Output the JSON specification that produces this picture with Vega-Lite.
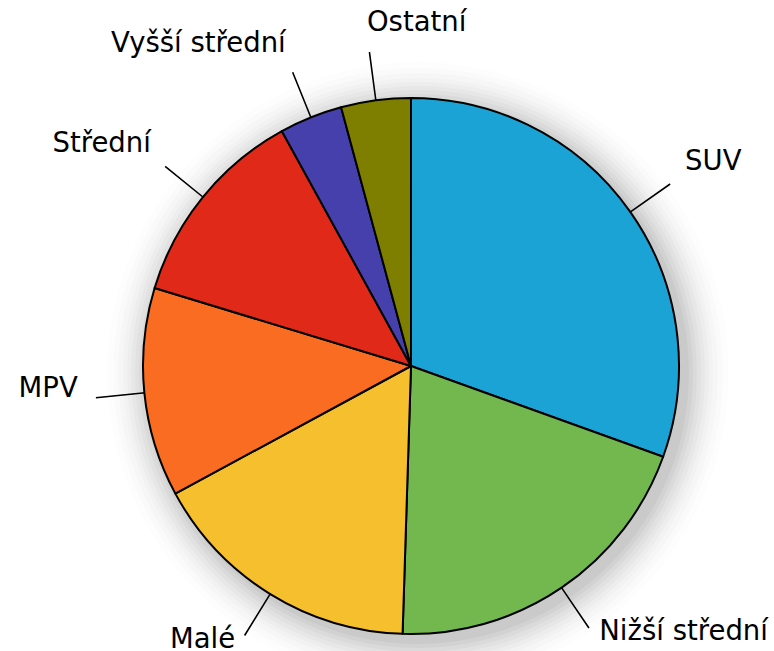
{
  "$schema": "https://vega.github.io/schema/vega-lite/v6.json",
  "width": 726,
  "height": 570,
  "autosize": "none",
  "padding": {"left": 48, "top": 81, "right": 0, "bottom": 0},
  "background": "white",
  "view": {"stroke": null},
  "datasets": {
    "cars": [
      {"category": "SUV", "value": 30.5, "i": 1},
      {"category": "Nižší střední", "value": 20.0, "i": 2},
      {"category": "Malé", "value": 16.6, "i": 3},
      {"category": "MPV", "value": 12.6, "i": 4},
      {"category": "Střední", "value": 12.3, "i": 5},
      {"category": "Vyšší střední", "value": 3.8, "i": 6},
      {"category": "Ostatní", "value": 4.2, "i": 7}
    ],
    "one": [{"s": 1}]
  },
  "layer": [
    {"data": {"name": "one"}, "mark": {"type": "arc", "theta": 0, "theta2": 6.2832, "outerRadius": 271, "fill": "#000", "opacity": 0.03, "xOffset": 7, "yOffset": 7}, "encoding": {}},
    {"data": {"name": "one"}, "mark": {"type": "arc", "theta": 0, "theta2": 6.2832, "outerRadius": 275, "fill": "#000", "opacity": 0.03, "xOffset": 7, "yOffset": 7}, "encoding": {}},
    {"data": {"name": "one"}, "mark": {"type": "arc", "theta": 0, "theta2": 6.2832, "outerRadius": 279, "fill": "#000", "opacity": 0.028, "xOffset": 7, "yOffset": 7}, "encoding": {}},
    {"data": {"name": "one"}, "mark": {"type": "arc", "theta": 0, "theta2": 6.2832, "outerRadius": 283, "fill": "#000", "opacity": 0.025, "xOffset": 7, "yOffset": 7}, "encoding": {}},
    {"data": {"name": "one"}, "mark": {"type": "arc", "theta": 0, "theta2": 6.2832, "outerRadius": 287, "fill": "#000", "opacity": 0.022, "xOffset": 7, "yOffset": 7}, "encoding": {}},
    {"data": {"name": "one"}, "mark": {"type": "arc", "theta": 0, "theta2": 6.2832, "outerRadius": 291, "fill": "#000", "opacity": 0.02, "xOffset": 7, "yOffset": 7}, "encoding": {}},
    {"data": {"name": "one"}, "mark": {"type": "arc", "theta": 0, "theta2": 6.2832, "outerRadius": 295, "fill": "#000", "opacity": 0.017, "xOffset": 7, "yOffset": 7}, "encoding": {}},
    {"data": {"name": "one"}, "mark": {"type": "arc", "theta": 0, "theta2": 6.2832, "outerRadius": 300, "fill": "#000", "opacity": 0.014, "xOffset": 7, "yOffset": 7}, "encoding": {}},
    {"data": {"name": "one"}, "mark": {"type": "arc", "theta": 0, "theta2": 6.2832, "outerRadius": 305, "fill": "#000", "opacity": 0.011, "xOffset": 7, "yOffset": 7}, "encoding": {}},
    {"data": {"name": "one"}, "mark": {"type": "arc", "theta": 0, "theta2": 6.2832, "outerRadius": 311, "fill": "#000", "opacity": 0.008, "xOffset": 7, "yOffset": 7}, "encoding": {}},
    {
      "data": {"name": "cars"},
      "mark": {"type": "arc", "outerRadius": 268, "stroke": "#000", "strokeWidth": 2, "strokeJoin": "round"},
      "encoding": {
        "theta": {"field": "value", "type": "quantitative", "stack": true, "scale": {"domain": [0, 100], "range": [0, 6.2832]}},
        "order": {"field": "i", "type": "quantitative"},
        "color": {
          "field": "category", "type": "nominal", "legend": null,
          "scale": {
            "domain": ["SUV", "Nižší střední", "Malé", "MPV", "Střední", "Vyšší střední", "Ostatní"],
            "range": ["#1ba3d5", "#72b84f", "#f5bf2d", "#f96c21", "#e1291a", "#4640ad", "#7e7e00"]
          }
        }
      }
    },
    {
      "data": {"name": "cars"},
      "transform": [
        {"window": [{"op": "sum", "field": "value", "as": "cum"}], "sort": [{"field": "i"}], "frame": [null, 0]},
        {"calculate": "datum.cum - datum.value / 2", "as": "mid"},
        {"calculate": "datum.mid + 0.01", "as": "mid2"}
      ],
      "mark": {"type": "arc", "innerRadius": 268, "outerRadius": 316, "stroke": "#000", "strokeWidth": 1.4, "fill": "#000"},
      "encoding": {
        "theta": {"field": "mid", "type": "quantitative", "scale": {"domain": [0, 100], "range": [0, 6.2832]}},
        "theta2": {"field": "mid2"}
      }
    },
    {
      "data": {"name": "cars"},
      "transform": [
        {"window": [{"op": "sum", "field": "value", "as": "cum"}], "sort": [{"field": "i"}], "frame": [null, 0]},
        {"calculate": "datum.cum - datum.value / 2", "as": "mid"},
        {"filter": {"field": "category", "oneOf": ["SUV", "Nižší střední", "Ostatní"]}}
      ],
      "mark": {"type": "text", "radius": 335, "align": "left", "baseline": "middle", "dy": -11, "font": "DejaVu Sans", "fontSize": 27.5, "color": "#000"},
      "encoding": {
        "theta": {"field": "mid", "type": "quantitative", "scale": {"domain": [0, 100], "range": [0, 6.2832]}},
        "text": {"field": "category"}
      }
    },
    {
      "data": {"name": "cars"},
      "transform": [
        {"window": [{"op": "sum", "field": "value", "as": "cum"}], "sort": [{"field": "i"}], "frame": [null, 0]},
        {"calculate": "datum.cum - datum.value / 2", "as": "mid"},
        {"filter": {"field": "category", "oneOf": ["Malé", "MPV", "Střední", "Vyšší střední"]}}
      ],
      "mark": {"type": "text", "radius": 335, "align": "right", "baseline": "middle", "dy": -11, "font": "DejaVu Sans", "fontSize": 27.5, "color": "#000"},
      "encoding": {
        "theta": {"field": "mid", "type": "quantitative", "scale": {"domain": [0, 100], "range": [0, 6.2832]}},
        "text": {"field": "category"}
      }
    }
  ]
}
